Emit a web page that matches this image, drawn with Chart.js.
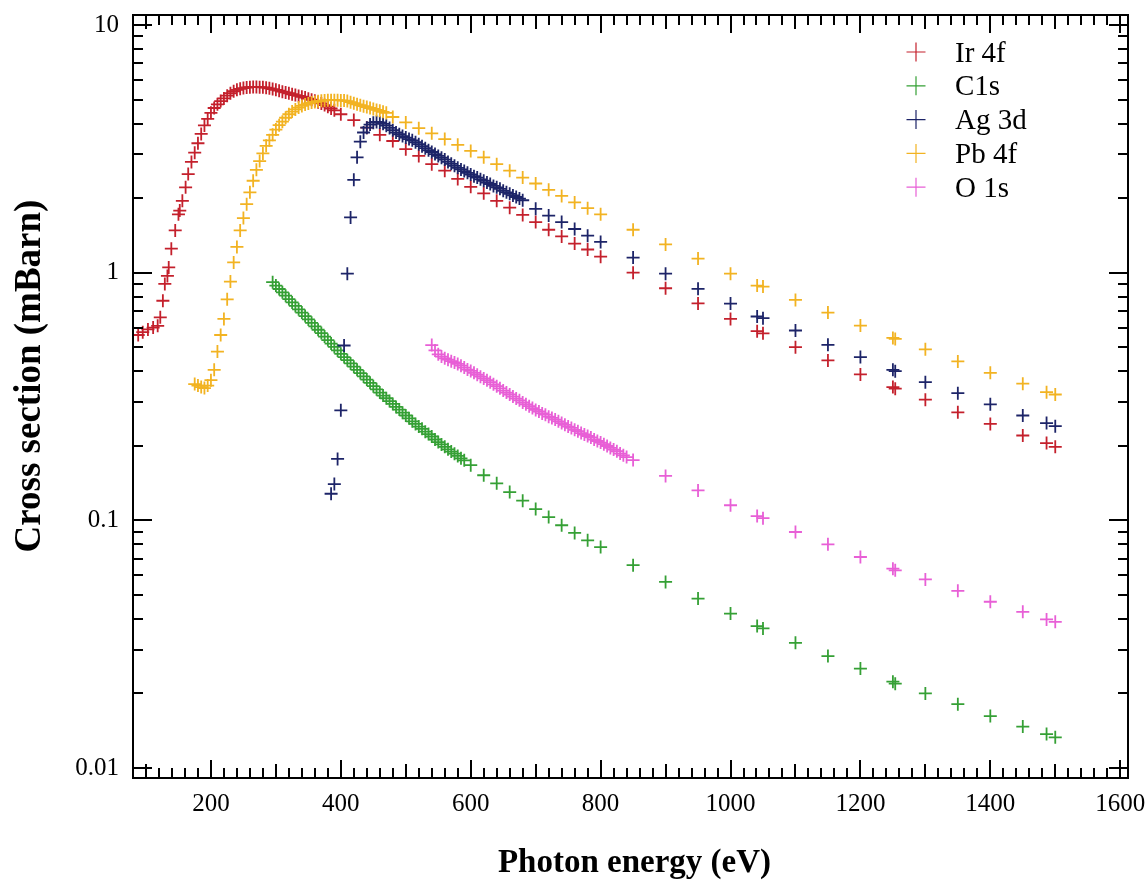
<!DOCTYPE html>
<html>
<head>
<meta charset="utf-8">
<script src="https://cdn.jsdelivr.net/npm/chart.js@4.4.1/dist/chart.umd.min.js"></script>
<style>
  html, body { margin: 0; padding: 0; background: #fff; }
</style>
</head>
<body>
<canvas id="chart" width="1147" height="881"></canvas>
<script>
// photon energies shared by all series above 800 eV (incl. Na, Mg, Al K-alpha)
const highE = [850, 900, 950, 1000, 1041, 1050, 1100, 1150, 1200, 1250, 1253.6, 1300, 1350, 1400, 1450, 1486.6, 1500];

// Ir 4f
const irE = [88, 95, 103, 111, 118, 122, 126, 129, 133, 135, 139, 145, 150, 152, 156, 161,
  165, 170, 175, 180, 185, 190, 195, 200, 205, 210, 215, 220, 225, 230, 235, 240, 245, 250, 255, 260,
  265, 270, 275, 280, 285, 290, 295, 300, 305, 310, 315, 320, 325, 330, 335, 340, 345, 350, 355, 360,
  365, 370, 375, 380, 385, 390,
  400, 420, 440, 460, 480, 500, 520, 540, 560, 580, 600, 620, 640, 660, 680, 700, 720, 740, 760, 780, 800].concat(highE);
const irV = [0.56, 0.575, 0.59, 0.60, 0.61, 0.66, 0.77, 0.90, 0.97, 1.05, 1.25, 1.48, 1.72, 1.78, 1.95, 2.21,
  2.5, 2.8, 3.05, 3.33, 3.63, 3.93, 4.18, 4.42, 4.62, 4.78, 4.93, 5.05, 5.18, 5.3, 5.4, 5.47, 5.52, 5.56, 5.59, 5.61,
  5.62, 5.62, 5.61, 5.6, 5.58, 5.55, 5.51, 5.47, 5.43, 5.38, 5.34, 5.3, 5.25, 5.21, 5.17, 5.13, 5.09, 5.04, 4.99, 4.94,
  4.88, 4.82, 4.75, 4.68, 4.6, 4.52,
  4.36, 4.13, 3.85, 3.60, 3.40, 3.15, 2.96, 2.74, 2.58, 2.39, 2.22, 2.09, 1.95, 1.83, 1.71, 1.60, 1.49, 1.40, 1.31, 1.24, 1.16,
  1.0, 0.865, 0.751, 0.65, 0.58, 0.569, 0.50, 0.442, 0.388, 0.345, 0.34, 0.307, 0.273, 0.245, 0.220, 0.205, 0.198];

// C 1s
const cE = [295, 300, 305, 310, 315, 320, 325, 330, 335, 340, 345, 350, 355, 360, 365, 370, 375, 380, 385, 390,
  395, 400, 405, 410, 415, 420, 425, 430, 435, 440, 445, 450, 455, 460, 465, 470, 475, 480, 485, 490,
  495, 500, 505, 510, 515, 520, 525, 530, 535, 540, 545, 550, 555, 560, 565, 570, 575, 580, 585, 590,
  600, 620, 640, 660, 680, 700, 720, 740, 760, 780, 800].concat(highE);
const cV = [0.915, 0.887, 0.859, 0.833, 0.807, 0.782, 0.758, 0.734, 0.711, 0.690, 0.668, 0.647, 0.627, 0.607, 0.588, 0.570, 0.552, 0.534, 0.517, 0.501,
  0.485, 0.470, 0.456, 0.443, 0.430, 0.417, 0.405, 0.393, 0.381, 0.370, 0.359, 0.348, 0.338, 0.328, 0.319, 0.311, 0.303, 0.295, 0.287, 0.280,
  0.272, 0.265, 0.258, 0.251, 0.245, 0.239, 0.234, 0.228, 0.223, 0.218, 0.212, 0.207, 0.2025, 0.198, 0.1934, 0.1895, 0.1857, 0.182, 0.178, 0.1747,
  0.167, 0.152, 0.141, 0.130, 0.120, 0.111, 0.103, 0.0955, 0.0889, 0.083, 0.078,
  0.0659, 0.0564, 0.0483, 0.042, 0.0374, 0.0366, 0.032, 0.0283, 0.0252, 0.0223, 0.0219, 0.020, 0.0181, 0.0162, 0.0147, 0.0137, 0.0133];

// Ag 3d
const agE = [385, 390, 395, 400, 405, 410, 415, 420, 425, 430, 435, 440, 445, 450, 455, 460, 465, 470, 475, 480,
  485, 490, 495, 500, 505, 510, 515, 520, 525, 530, 535, 540, 545, 550, 555, 560, 565, 570, 575, 580,
  585, 590, 595, 600, 605, 610, 615, 620, 625, 630, 635, 640, 645, 650, 655, 660, 665, 670, 675, 680,
  700, 720, 740, 760, 780, 800].concat(highE);
const agV = [0.128, 0.140, 0.177, 0.278, 0.508, 0.99, 1.67, 2.37, 2.92, 3.38, 3.68, 3.85, 3.96, 4.03, 4.06, 4.04, 3.99, 3.92, 3.84, 3.76,
  3.68, 3.62, 3.56, 3.51, 3.46, 3.42, 3.36, 3.30, 3.24, 3.18, 3.12, 3.07, 3.01, 2.96, 2.91, 2.86, 2.80, 2.75, 2.70, 2.65,
  2.61, 2.57, 2.53, 2.49, 2.45, 2.42, 2.38, 2.35, 2.31, 2.28, 2.24, 2.21, 2.18, 2.14, 2.11, 2.08, 2.05, 2.02, 1.99, 1.96,
  1.81, 1.70, 1.60, 1.50, 1.41, 1.33,
  1.15, 0.99, 0.86, 0.75, 0.665, 0.655, 0.584, 0.511, 0.456, 0.405, 0.40, 0.361, 0.326, 0.294, 0.265, 0.247, 0.240];

// Pb 4f
const pbE = [175, 180, 185, 190, 195, 200, 205, 210, 215, 220, 225, 230, 235, 240, 245, 250, 255, 260, 265, 270,
  275, 280, 285, 290, 295, 300, 305, 310, 315, 320, 325, 330, 335, 340, 345, 350, 355, 360, 365, 370,
  375, 380, 385, 390, 395, 400, 405, 410, 415, 420, 425, 430, 435, 440, 445, 450, 455, 460, 465, 470,
  480, 500, 520, 540, 560, 580, 600, 620, 640, 660, 680, 700, 720, 740, 760, 780, 800].concat(highE);
const pbV = [0.355, 0.350, 0.345, 0.342, 0.350, 0.368, 0.405, 0.48, 0.56, 0.65, 0.78, 0.92, 1.10, 1.27, 1.48, 1.66, 1.89, 2.11, 2.35, 2.60,
  2.82, 3.03, 3.25, 3.42, 3.60, 3.78, 3.94, 4.07, 4.22, 4.36, 4.47, 4.56, 4.64, 4.71, 4.77, 4.82, 4.86, 4.89, 4.92, 4.94,
  4.96, 4.97, 4.97, 4.97, 4.97, 4.96, 4.95, 4.93, 4.88, 4.83, 4.78, 4.74, 4.70, 4.66, 4.62, 4.58, 4.54, 4.50, 4.46, 4.42,
  4.25, 4.04, 3.83, 3.65, 3.46, 3.28, 3.10, 2.92, 2.74, 2.58, 2.42, 2.29, 2.16, 2.04, 1.92, 1.82, 1.72,
  1.49, 1.30, 1.14, 0.99, 0.887, 0.878, 0.776, 0.69, 0.611, 0.545, 0.54, 0.49, 0.438, 0.394, 0.356, 0.329, 0.322];

// O 1s
const oE = [540, 545, 550, 555, 560, 565, 570, 575, 580, 585, 590, 595, 600, 605, 610, 615, 620, 625, 630, 635,
  640, 645, 650, 655, 660, 665, 670, 675, 680, 685, 690, 695, 700, 705, 710, 715, 720, 725, 730, 735,
  740, 745, 750, 755, 760, 765, 770, 775, 780, 785, 790, 795, 800, 805, 810, 815, 820, 825, 830, 835, 840].concat(highE);
const oV = [0.510, 0.485, 0.468, 0.458, 0.451, 0.445, 0.439, 0.434, 0.428, 0.421, 0.4135, 0.406, 0.401, 0.394, 0.387, 0.380, 0.374, 0.368, 0.361, 0.354,
  0.348, 0.341, 0.334, 0.328, 0.322, 0.316, 0.310, 0.305, 0.299, 0.294, 0.289, 0.284, 0.279, 0.275, 0.270, 0.267, 0.262, 0.259, 0.255, 0.251,
  0.247, 0.243, 0.239, 0.236, 0.232, 0.229, 0.225, 0.222, 0.219, 0.216, 0.212, 0.209, 0.206, 0.203, 0.1995, 0.196, 0.193, 0.190, 0.186, 0.183, 0.180,
  0.175, 0.151, 0.132, 0.115, 0.104, 0.102, 0.0897, 0.080, 0.0711, 0.0638, 0.0628, 0.0577, 0.0519, 0.0469, 0.0427, 0.0398, 0.0389];

const xTickLabels = [200, 400, 600, 800, 1000, 1200, 1400, 1600];
const yTickLabels = [0.01, 0.1, 1, 10];

const serif = "'Liberation Serif', 'Times New Roman', serif";

function pts(xs, ys) {
  return xs.map((x, i) => ({ x: x, y: ys[i] }));
}

function series(label, xs, ys, color, order) {
  return {
    label: label,
    data: pts(xs, ys),
    showLine: false,
    pointStyle: "cross",
    pointRadius: 6.5,
    pointBorderWidth: 1.8,
    borderColor: color,
    backgroundColor: color,
    order: order
  };
}

// inward ticks on all four sides + box frame
const frameTicks = {
  id: "frameTicks",
  afterDatasetsDraw(chart) {
    const { ctx, chartArea: a, scales } = chart;
    const x = scales.x, y = scales.y;
    ctx.save();
    ctx.strokeStyle = "#000";
    ctx.lineWidth = 2;
    ctx.beginPath();
    for (let v = 100; v <= 1600; v += 20) {
      const px = Math.round(x.getPixelForValue(v));
      const len = v % 200 === 0 ? 18 : (v % 100 === 0 ? 14 : 10);
      ctx.moveTo(px, a.bottom);
      ctx.lineTo(px, a.bottom - len);
      ctx.moveTo(px, a.top);
      ctx.lineTo(px, a.top + len);
    }
    for (let d = -3; d <= 1; d++) {
      for (let m = 1; m <= 9; m++) {
        const v = m * Math.pow(10, d);
        if (v < y.min || v > y.max) continue;
        const py = Math.round(y.getPixelForValue(v));
        const len = m === 1 ? 19 : 10;
        ctx.moveTo(a.left, py);
        ctx.lineTo(a.left + len, py);
        ctx.moveTo(a.right, py);
        ctx.lineTo(a.right - len, py);
      }
    }
    ctx.rect(a.left, a.top, a.right - a.left, a.bottom - a.top);
    ctx.stroke();
    ctx.restore();
  }
};

// axis titles + legend box in the upper right corner of the plot
const labelsAndLegend = {
  id: "labelsAndLegend",
  afterDraw(chart) {
    const ctx = chart.ctx;
    const a = chart.chartArea;
    ctx.save();
    ctx.fillStyle = "#000";
    ctx.textAlign = "center";
    ctx.textBaseline = "alphabetic";
    ctx.font = "bold 33px " + serif;
    ctx.fillText("Photon energy (eV)", (a.left + a.right) / 2 + 4, 872);
    ctx.font = "bold 37px " + serif;
    ctx.translate(40, 376);
    ctx.rotate(-Math.PI / 2);
    ctx.fillText("Cross section (mBarn)", 0, 0);
    ctx.restore();

    ctx.save();
    ctx.font = "29px " + serif;
    ctx.fillStyle = "#000";
    ctx.textBaseline = "alphabetic";
    chart.data.datasets.forEach((ds, i) => {
      const cy = 52 + i * 33.8;
      const cx = 916;
      ctx.strokeStyle = ds.borderColor;
      ctx.lineWidth = 1.2;
      ctx.beginPath();
      ctx.moveTo(cx - 9.5, cy);
      ctx.lineTo(cx + 9.5, cy);
      ctx.moveTo(cx, cy - 9.5);
      ctx.lineTo(cx, cy + 9.5);
      ctx.stroke();
      ctx.fillText(ds.label, 955, cy + 9.5);
    });
    ctx.restore();
  }
};

new Chart(document.getElementById("chart"), {
  type: "scatter",
  data: {
    datasets: [
      series("Ir 4f", irE, irV, "#c4202c", 5),
      series("C1s", cE, cV, "#35a035", 4),
      series("Ag 3d", agE, agV, "#1d2468", 3),
      series("Pb 4f", pbE, pbV, "#f2b322", 2),
      series("O 1s", oE, oV, "#e85fd6", 1)
    ]
  },
  options: {
    responsive: false,
    animation: false,
    devicePixelRatio: 1,
    layout: { padding: { top: 15, right: 19, left: 0, bottom: 0 } },
    plugins: {
      legend: { display: false },
      tooltip: { enabled: false }
    },
    scales: {
      x: {
        type: "linear",
        min: 80,
        max: 1612,
        afterFit(s) { s.height = 103; s.paddingLeft = 0; s.paddingRight = 0; },
        afterBuildTicks(s) { s.ticks = xTickLabels.map(v => ({ value: v })); },
        grid: { display: false, drawTicks: false },
        border: { display: false },
        ticks: {
          padding: 11,
          color: "#000",
          font: { family: serif, size: 25 },
          maxRotation: 0,
          autoSkip: false,
          callback: v => String(v)
        }
      },
      y: {
        type: "logarithmic",
        min: 0.00911,
        max: 10.97,
        afterFit(s) { s.width = 133; s.paddingTop = 0; s.paddingBottom = 0; },
        afterBuildTicks(s) { s.ticks = yTickLabels.map(v => ({ value: v })); },
        grid: { display: false, drawTicks: false },
        border: { display: false },
        ticks: {
          padding: 14,
          color: "#000",
          font: { family: serif, size: 25 },
          autoSkip: false,
          callback: v => String(v)
        }
      }
    }
  },
  plugins: [frameTicks, labelsAndLegend]
});
</script>
</body>
</html>
